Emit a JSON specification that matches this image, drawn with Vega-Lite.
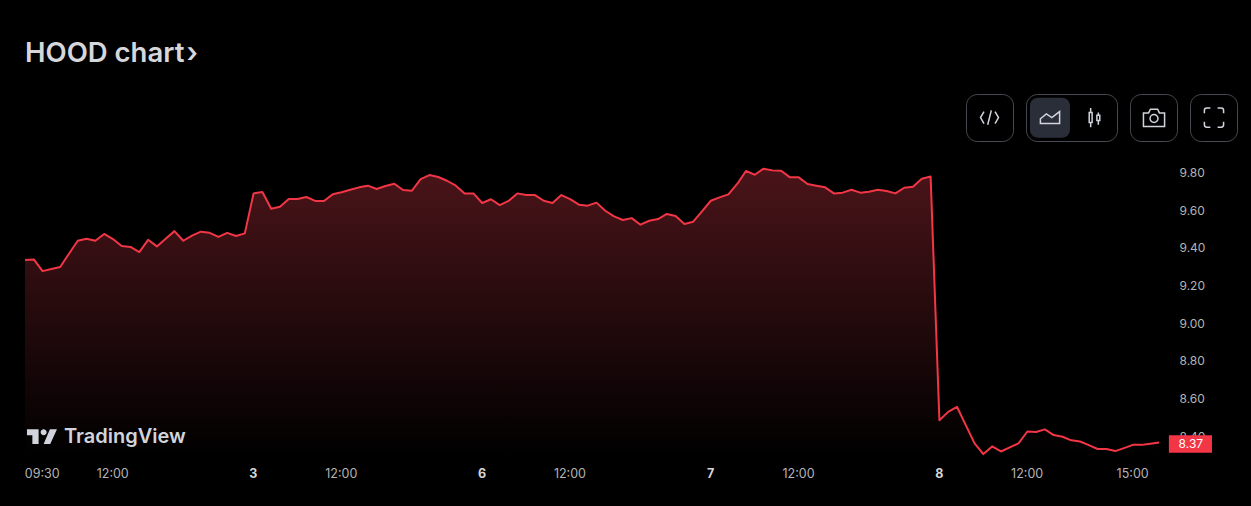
{
"$schema":"https://vega.github.io/schema/vega-lite/v6.json",
"width":1143,"height":306,
"autosize":{"type":"none"},
"padding":{"left":25,"top":150,"right":83,"bottom":50},
"background":"#000000",
"config":{"view":{"stroke":null},"font":"Inter"},
"title":{"text":"HOOD chart\u200a›","anchor":"start","frame":"group","font":"Inter","fontSize":27.5,"fontWeight":600,"color":"#d6d7db","offset":27},
"datasets":{"price":[
{"bar":0,"price":9.339},{"bar":1,"price":9.342},{"bar":2,"price":9.28},{"bar":3,"price":9.291},{"bar":4,"price":9.302},{"bar":5,"price":9.372},{"bar":6,"price":9.441},{"bar":7,"price":9.452},{"bar":8,"price":9.441},{"bar":9,"price":9.477},
{"bar":10,"price":9.45},{"bar":11,"price":9.413},{"bar":12,"price":9.408},{"bar":13,"price":9.381},{"bar":14,"price":9.446},{"bar":15,"price":9.411},{"bar":16,"price":9.452},{"bar":17,"price":9.492},{"bar":18,"price":9.441},{"bar":19,"price":9.468},
{"bar":20,"price":9.489},{"bar":21,"price":9.483},{"bar":22,"price":9.461},{"bar":23,"price":9.483},{"bar":24,"price":9.466},{"bar":25,"price":9.48},{"bar":26,"price":9.692},{"bar":27,"price":9.699},{"bar":28,"price":9.611},{"bar":29,"price":9.621},
{"bar":30,"price":9.662},{"bar":31,"price":9.662},{"bar":32,"price":9.673},{"bar":33,"price":9.652},{"bar":34,"price":9.652},{"bar":35,"price":9.687},{"bar":36,"price":9.698},{"bar":37,"price":9.711},{"bar":38,"price":9.724},{"bar":39,"price":9.733},
{"bar":40,"price":9.715},{"bar":41,"price":9.731},{"bar":42,"price":9.743},{"bar":43,"price":9.71},{"bar":44,"price":9.706},{"bar":45,"price":9.768},{"bar":46,"price":9.789},{"bar":47,"price":9.779},{"bar":48,"price":9.759},{"bar":49,"price":9.733},
{"bar":50,"price":9.692},{"bar":51,"price":9.692},{"bar":52,"price":9.641},{"bar":53,"price":9.661},{"bar":54,"price":9.63},{"bar":55,"price":9.652},{"bar":56,"price":9.692},{"bar":57,"price":9.683},{"bar":58,"price":9.683},{"bar":59,"price":9.653},
{"bar":60,"price":9.641},{"bar":61,"price":9.683},{"bar":62,"price":9.662},{"bar":63,"price":9.632},{"bar":64,"price":9.627},{"bar":65,"price":9.643},{"bar":66,"price":9.6},{"bar":67,"price":9.57},{"bar":68,"price":9.551},{"bar":69,"price":9.561},
{"bar":70,"price":9.526},{"bar":71,"price":9.547},{"bar":72,"price":9.556},{"bar":73,"price":9.583},{"bar":74,"price":9.572},{"bar":75,"price":9.53},{"bar":76,"price":9.542},{"bar":77,"price":9.597},{"bar":78,"price":9.653},{"bar":79,"price":9.671},
{"bar":80,"price":9.687},{"bar":81,"price":9.742},{"bar":82,"price":9.811},{"bar":83,"price":9.791},{"bar":84,"price":9.823},{"bar":85,"price":9.814},{"bar":86,"price":9.812},{"bar":87,"price":9.777},{"bar":88,"price":9.777},{"bar":89,"price":9.742},
{"bar":90,"price":9.733},{"bar":91,"price":9.724},{"bar":92,"price":9.692},{"bar":93,"price":9.696},{"bar":94,"price":9.711},{"bar":95,"price":9.696},{"bar":96,"price":9.701},{"bar":97,"price":9.711},{"bar":98,"price":9.705},{"bar":99,"price":9.692},
{"bar":100,"price":9.722},{"bar":101,"price":9.727},{"bar":102,"price":9.77},{"bar":103,"price":9.782},{"bar":104,"price":8.49},{"bar":105,"price":8.534},{"bar":106,"price":8.561},{"bar":107,"price":8.464},{"bar":108,"price":8.367},{"bar":109,"price":8.31},
{"bar":110,"price":8.351},{"bar":111,"price":8.324},{"bar":112,"price":8.346},{"bar":113,"price":8.367},{"bar":114,"price":8.43},{"bar":115,"price":8.427},{"bar":116,"price":8.441},{"bar":117,"price":8.411},{"bar":118,"price":8.402},{"bar":119,"price":8.383},
{"bar":120,"price":8.377},{"bar":121,"price":8.358},{"bar":122,"price":8.337},{"bar":123,"price":8.337},{"bar":124,"price":8.326},{"bar":125,"price":8.342},{"bar":126,"price":8.359},{"bar":127,"price":8.359},{"bar":128,"price":8.365},{"bar":129,"price":8.372}
],"one":[{}]},
"layer":[
{"data":{"name":"price"},"mark":{"type":"area","color":{"gradient":"linear","x1":0,"y1":0,"x2":0,"y2":1,"stops":[{"offset":0,"color":"#4a1419"},{"offset":1,"color":"#000000"}]}},
 "encoding":{
  "x":{"field":"bar","type":"quantitative","title":null,"scale":{"domain":[0,130],"nice":false,"zero":false},
   "axis":{"values":[0,10,26,36,52,62,78,88,104,114,126],
    "labelExpr":"{'0':'09:30','10':'12:00','26':'3','36':'12:00','52':'6','62':'12:00','78':'7','88':'12:00','104':'8','114':'12:00','126':'15:00'}[datum.value]",
    "labelFlush":true,"labelOverlap":false,"grid":false,"domain":false,"ticks":false,"labelPadding":11,"labelOffset":-0.7,"labelFont":"Inter","labelFontSize":12.5,
    "labelColor":{"condition":{"test":"indexof([26,52,78,104],datum.value)>=0","value":"#d6d6d6"},"value":"#b4b4b4"},
    "labelFontWeight":{"condition":{"test":"indexof([26,52,78,104],datum.value)>=0","value":"bold"},"value":"normal"}}},
  "y":{"field":"price","type":"quantitative","title":null,"scale":{"domain":[8.3,9.922],"nice":false,"zero":false},
   "axis":{"orient":"right","values":[8.4,8.6,8.8,9,9.2,9.4,9.6,9.8],"format":".2f","grid":false,"domain":false,"ticks":false,"labelPadding":11,"labelOffset":-0.7,"labelFont":"Inter","labelFontSize":12,"labelColor":"#b4b4b4","labelOverlap":false}},
  "y2":{"datum":8.3}
 }},
{"data":{"name":"price"},"mark":{"type":"line","color":"#f23645","strokeWidth":2,"strokeJoin":"round"},
 "encoding":{"x":{"field":"bar","type":"quantitative"},"y":{"field":"price","type":"quantitative"}}},
{"data":{"name":"one"},"mark":{"type":"rect","color":"#f23645"},"encoding":{"x":{"datum":130.1},"x2":{"datum":135},"y":{"datum":8.4106},"y2":{"datum":8.3173}}},
{"data":{"name":"one"},"mark":{"type":"text","text":"8.37","color":"#ffffff","font":"Inter","fontSize":12,"align":"center","baseline":"middle"},"encoding":{"x":{"datum":132.6},"y":{"datum":8.364}}},
{"data":{"name":"one"},"mark":{"type":"rect","filled":false,"stroke":"#4a4b52","strokeWidth":1,"cornerRadius":11},"encoding":{"x":{"datum":107.08},"x2":{"datum":112.43},"y":{"datum":10.216},"y2":{"datum":9.967}}},
{"data":{"name":"one"},"mark":{"type":"rect","filled":false,"stroke":"#4a4b52","strokeWidth":1,"cornerRadius":11},"encoding":{"x":{"datum":113.91},"x2":{"datum":124.26},"y":{"datum":10.216},"y2":{"datum":9.967}}},
{"data":{"name":"one"},"mark":{"type":"rect","color":"#2a2e39","cornerRadius":8},"encoding":{"x":{"datum":114.3},"x2":{"datum":118.85},"y":{"datum":10.199},"y2":{"datum":9.987}}},
{"data":{"name":"one"},"mark":{"type":"rect","filled":false,"stroke":"#4a4b52","strokeWidth":1,"cornerRadius":11},"encoding":{"x":{"datum":125.73},"x2":{"datum":131.08},"y":{"datum":10.216},"y2":{"datum":9.967}}},
{"data":{"name":"one"},"mark":{"type":"rect","filled":false,"stroke":"#4a4b52","strokeWidth":1,"cornerRadius":11},"encoding":{"x":{"datum":132.56},"x2":{"datum":137.91},"y":{"datum":10.216},"y2":{"datum":9.967}}},
{"data":{"name":"one"},"mark":{"type":"point","filled":false,"stroke":"#d1d4dc","strokeWidth":1.5,"opacity":1,"size":576,"shape":"M-0.46,-0.5L-0.75,0L-0.46,0.5M0.46,-0.5L0.75,0L0.46,0.5M0.15,-0.6L-0.15,0.6"},"encoding":{"x":{"datum":109.7},"y":{"datum":10.094}}},
{"data":{"name":"one"},"mark":{"type":"point","filled":false,"stroke":"#d1d4dc","strokeWidth":1.5,"opacity":1,"size":576,"shape":"M-0.8,0.5L-0.8,0.1L-0.3,-0.3L0.15,0L0.8,-0.5L0.8,0.5Z"},"encoding":{"x":{"datum":116.58},"y":{"datum":10.094}}},
{"data":{"name":"one"},"mark":{"type":"point","filled":false,"stroke":"#d1d4dc","strokeWidth":1.5,"opacity":1,"size":576,"shape":"M-0.32,-0.8L-0.32,-0.42M-0.32,0.42L-0.32,0.8M-0.44,-0.42L-0.2,-0.42L-0.2,0.42L-0.44,0.42ZM0.32,-0.42L0.32,-0.2M0.32,0.25L0.32,0.6M0.2,-0.2L0.44,-0.2L0.44,0.25L0.2,0.25Z"},"encoding":{"x":{"datum":121.64},"y":{"datum":10.094}}},
{"data":{"name":"one"},"mark":{"type":"point","filled":false,"stroke":"#d1d4dc","strokeWidth":1.5,"opacity":1,"size":576,"shape":"M-0.88,-0.42L-0.45,-0.42L-0.3,-0.72L0.3,-0.72L0.45,-0.42L0.88,-0.42L0.88,0.72L-0.88,0.72ZM0.33,0.05A0.33,0.33,0,1,1,-0.33,0.05A0.33,0.33,0,1,1,0.33,0.05Z"},"encoding":{"x":{"datum":128.41},"y":{"datum":10.092}}},
{"data":{"name":"one"},"mark":{"type":"point","filled":false,"stroke":"#d1d4dc","strokeWidth":1.5,"opacity":1,"size":576,"shape":"M-0.8,-0.35L-0.8,-0.6Q-0.8,-0.8,-0.6,-0.8L-0.3,-0.8M0.3,-0.8L0.6,-0.8Q0.8,-0.8,0.8,-0.6L0.8,-0.35M0.8,0.35L0.8,0.6Q0.8,0.8,0.6,0.8L0.3,0.8M-0.3,0.8L-0.6,0.8Q-0.8,0.8,-0.8,0.6L-0.8,0.35"},"encoding":{"x":{"datum":135.23},"y":{"datum":10.094}}},
{"data":{"name":"one"},"mark":{"type":"point","filled":true,"color":"#d1d4dc","opacity":1,"size":576,"shape":"M-0.28,-0.62L-1.25,-0.62L-1.25,-0.1L-0.8,-0.1L-0.8,0.62L-0.28,0.62ZM0.69,0.62L0.14,0.62L0.66,-0.62L1.25,-0.62ZM0.39,-0.36A0.25,0.25,0,1,1,-0.11,-0.36A0.25,0.25,0,1,1,0.39,-0.36Z"},"encoding":{"x":{"datum":1.93},"y":{"datum":8.403}}},
{"data":{"name":"one"},"mark":{"type":"text","text":"TradingView","color":"#d1d4dc","font":"Inter","fontSize":20,"fontWeight":600,"align":"left","baseline":"alphabetic"},"encoding":{"x":{"datum":4.44},"y":{"datum":8.368}}}
]
}
